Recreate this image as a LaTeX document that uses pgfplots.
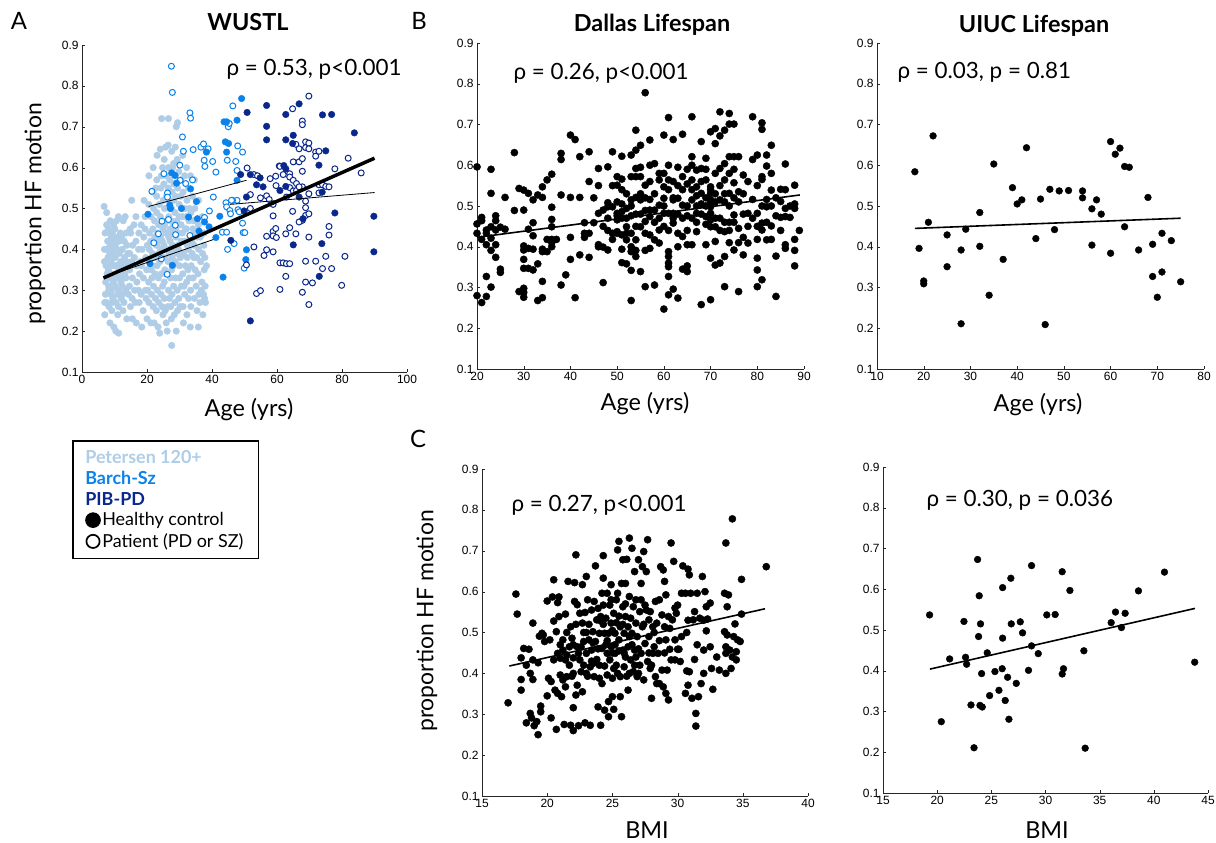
\documentclass[border=0pt]{standalone}
\usepackage{fontspec}
\setmainfont{Lato}
\newfontfamily\tickfont{Liberation Sans}
\usepackage{pgfplots}
\pgfplotsset{compat=1.18}
\definecolor{pet}{RGB}{175,205,230}
\definecolor{barch}{RGB}{10,130,235}
\definecolor{pib}{RGB}{10,40,140}

\pgfplotsset{
  panel/.style={
    scale only axis, width=326bp, height=326bp, anchor=south west,
    axis lines*=left, axis line style={-, black!85},
    tick align=inside, major tick length=3bp, tick style={black!85},
    ymin=0.1, ymax=0.9, ytick={0.1,0.2,0.3,0.4,0.5,0.6,0.7,0.8,0.9},
    yticklabel style={/pgf/number format/.cd, fixed, fixed zerofill, precision=1},
    tick label style={font=\tickfont\fontsize{12}{14}\selectfont},
    /pgf/number format/assume math mode=true,
    clip=false, clip marker paths=true,
  },
  dot/.style={only marks, mark=*, mark size=3.6bp, black, forget plot},
  fit/.style={black, line width=1.6bp, forget plot},
}

\begin{document}
\begin{tikzpicture}[x=1bp, y=1bp]
\useasboundingbox (0,0) rectangle (1216,843);

% ---------------- A: WUSTL ----------------
\begin{axis}[panel, at={(82bp,471bp)}, width=325bp, height=327bp,
  xmin=0, xmax=100, xtick={0,20,40,60,80,100},
  legend style={at={(-0.031,-0.208)}, anchor=north west, draw=black, line width=1.6bp,
    font=\fontsize{18}{20}\selectfont, inner xsep=13bp, inner ysep=8bp, row sep=3.2bp,
    nodes={inner ysep=1.5bp}},
  legend cell align=left]

\addlegendimage{empty legend}
\addlegendentry{\hspace*{-17bp}\textcolor{pet}{\bfseries Petersen 120+}}
\addlegendimage{empty legend}
\addlegendentry{\hspace*{-17bp}\textcolor{barch}{\bfseries Barch-Sz}}
\addlegendimage{empty legend}
\addlegendentry{\hspace*{-17bp}\textcolor{pib}{\bfseries PIB-PD}}
\addlegendimage{legend image code/.code={\draw[mark=*, mark size=7.3bp, black, line width=1bp, only marks] plot coordinates {(7bp,0bp)};}}
\addlegendentry{Healthy control}
\addlegendimage{legend image code/.code={\draw[mark=o, mark size=6.6bp, black, line width=1.7bp, only marks] plot coordinates {(7bp,0bp)};}}
\addlegendentry{Patient (PD or SZ)}

% Petersen 120+
\addplot[only marks, mark=*, mark size=3.3bp, color=pet, forget plot] coordinates {
(6.8,0.505)(7.0,0.24)(7.2,0.29)(6.9,0.37)(7.1,0.44)(7.3,0.32)(6.9,0.40)
(7.6,0.49)(7.7,0.34)(7.5,0.27)(7.8,0.40)(7.6,0.46)
(8.1,0.45)(8.2,0.30)(8.0,0.38)(8.3,0.26)(8.1,0.35)(7.9,0.42)(8.2,0.31)
(8.6,0.22)(8.7,0.47)(8.5,0.36)(8.8,0.29)(8.6,0.41)(8.7,0.33)(8.5,0.39)
(9.1,0.40)(9.2,0.27)(9.0,0.34)(9.3,0.44)(9.1,0.30)(8.9,0.37)(9.2,0.25)(9.4,0.39)(9.0,0.43)
(9.7,0.46)(9.6,0.32)(9.8,0.21)(9.7,0.36)(9.5,0.28)(9.9,0.42)(9.6,0.38)
(10.2,0.38)(10.3,0.31)(10.4,0.20)(10.1,0.45)(10.3,0.34)(10.5,0.27)(10.2,0.41)(10.4,0.36)
(10.8,0.43)(10.9,0.29)(10.7,0.36)(11.0,0.24)(10.8,0.40)(10.9,0.33)
(11.3,0.195)(11.2,0.48)(11.4,0.35)(11.3,0.30)(11.5,0.39)(11.2,0.26)(11.4,0.42)
(11.9,0.37)(12.0,0.32)(11.8,0.44)(12.1,0.28)(11.9,0.34)
(12.4,0.40)(12.6,0.25)(12.5,0.36)(12.4,0.31)(12.7,0.47)(12.5,0.29)(12.6,0.33)
(13.0,0.42)(13.1,0.38)(12.9,0.27)(13.2,0.34)
(13.6,0.44)(13.5,0.30)(13.8,0.23)(13.7,0.37)(13.5,0.33)(13.8,0.41)
(14.2,0.36)(14.3,0.29)(14.1,0.39)
(14.7,0.39)(14.8,0.45)(14.6,0.31)(14.9,0.26)(14.7,0.35)
(15.3,0.52)(15.5,0.33)(15.4,0.28)(15.6,0.41)(15.3,0.37)(15.5,0.23)
(16.0,0.46)(16.2,0.30)(16.1,0.38)
(16.6,0.48)(16.8,0.36)(16.7,0.22)(16.9,0.32)(16.6,0.42)
(17.4,0.40)(17.6,0.27)(17.5,0.44)(17.7,0.34)(17.4,0.30)
(18.2,0.46)(18.4,0.21)(18.3,0.36)(18.5,0.40)(18.2,0.29)
(18.9,0.33)(19.0,0.43)(18.8,0.25)
(19.4,0.48)(19.6,0.38)(19.5,0.30)(19.7,0.28)(19.4,0.45)
(20.0,0.23)(20.1,0.41)(19.9,0.35)
(20.5,0.51)(20.7,0.37)(20.6,0.27)(20.8,0.44)(20.5,0.32)(20.7,0.40)(20.6,0.58)
(21.2,0.48)(21.3,0.35)(21.1,0.42)(21.4,0.29)(21.2,0.22)
(21.8,0.54)(21.9,0.60)(21.7,0.39)(22.0,0.31)(21.8,0.45)(21.9,0.26)(21.7,0.36)(22.0,0.50)
(22.4,0.43)(22.5,0.34)(22.3,0.47)(22.6,0.28)(22.4,0.38)
(23.0,0.57)(23.1,0.63)(22.9,0.41)(23.2,0.30)(23.0,0.49)(23.1,0.36)(22.9,0.25)(23.2,0.44)(23.0,0.53)
(23.6,0.46)(23.7,0.39)(23.5,0.33)(23.8,0.51)(23.6,0.27)(23.7,0.42)
(24.1,0.645)(24.3,0.55)(24.2,0.43)(24.0,0.37)(24.3,0.29)(24.1,0.48)(23.9,0.195)(24.2,0.40)(24.4,0.34)
(24.8,0.60)(24.9,0.45)(24.7,0.38)(25.0,0.52)(24.8,0.31)(24.9,0.24)(24.7,0.42)
(24.5,0.72)(25.3,0.62)(25.4,0.50)(25.2,0.41)(25.5,0.35)(25.3,0.28)(25.4,0.46)(25.2,0.56)(25.5,0.38)(25.3,0.32)
(25.9,0.58)(26.0,0.47)(25.8,0.40)(26.1,0.34)(25.9,0.22)(26.0,0.53)(25.8,0.44)
(26.5,0.655)(26.6,0.60)(26.4,0.52)(26.7,0.43)(26.5,0.37)(26.6,0.30)(26.4,0.26)(26.7,0.48)(26.5,0.40)(26.6,0.55)
(27.0,0.57)(27.1,0.45)(26.9,0.39)(27.2,0.33)(27.0,0.50)(27.1,0.42)(26.9,0.28)
(26.6,0.72)(27.6,0.64)(27.7,0.54)(27.5,0.47)(27.8,0.41)(27.6,0.35)(27.7,0.29)(27.5,0.23)(27.8,0.44)(27.6,0.50)(27.7,0.38)
(28.2,0.61)(28.3,0.52)(28.1,0.46)(28.4,0.40)(28.2,0.31)(28.3,0.56)(28.1,0.36)
(28.7,0.65)(28.8,0.58)(28.6,0.49)(28.9,0.43)(28.7,0.37)(28.8,0.33)(28.6,0.27)(28.9,0.45)(28.7,0.53)
(27.6,0.165)(29.3,0.62)(29.4,0.55)(29.2,0.47)(29.5,0.41)(29.3,0.30)(29.4,0.25)(29.2,0.39)
(29.0,0.70)(29.8,0.59)(29.9,0.51)(29.7,0.44)(30.0,0.36)(29.8,0.28)(29.9,0.48)(29.7,0.40)(30.0,0.33)
(30.4,0.57)(30.5,0.46)(30.3,0.38)(30.6,0.31)(30.4,0.53)(30.5,0.42)
(29.4,0.71)(31.0,0.63)(31.1,0.54)(30.9,0.48)(31.2,0.39)(31.0,0.34)(31.1,0.26)(30.9,0.44)(31.2,0.22)
(31.6,0.58)(31.7,0.50)(31.5,0.42)(31.8,0.36)(31.6,0.29)
(32.2,0.60)(32.3,0.52)(32.1,0.45)(32.4,0.38)(32.2,0.32)(32.3,0.24)(32.1,0.48)(32.4,0.41)
(32.8,0.55)(32.9,0.47)(32.7,0.40)(33.0,0.33)(32.8,0.28)
(33.4,0.58)(33.5,0.49)(33.3,0.43)(33.6,0.36)(33.4,0.30)(33.5,0.26)(33.3,0.21)
(34.0,0.53)(34.1,0.45)(33.9,0.39)(34.2,0.33)
(34.6,0.57)(34.7,0.50)(34.5,0.41)(34.8,0.35)(34.6,0.28)(34.7,0.44)
(35.2,0.47)(35.3,0.38)(35.1,0.31)(35.4,0.25)
(35.8,0.46)(35.9,0.40)(35.7,0.34)(36.0,0.29)(35.8,0.21)(35.9,0.52)
(36.4,0.43)(36.5,0.37)(36.3,0.27)
(37.0,0.48)(37.1,0.39)(36.9,0.32)(37.2,0.24)
(37.5,0.41)(37.6,0.35)(37.4,0.29)(37.6,0.44)(38.2,0.64)(37.8,0.38)(37.9,0.31)(37.7,0.28)(38.3,0.36)(38.0,0.27)
(20.2,0.30)(21.5,0.33)(22.2,0.22)(23.4,0.21)(24.6,0.26)(25.6,0.25)(26.2,0.20)(27.3,0.26)
(28.4,0.24)(29.0,0.20)(30.2,0.26)(31.4,0.31)(32.6,0.35)(33.8,0.42)(34.4,0.38)(35.5,0.43)
(36.7,0.30)(30.7,0.50)(31.9,0.45)(33.1,0.50)(34.3,0.47)(22.7,0.55)(24.4,0.58)(25.7,0.65)
(27.9,0.60)(19.1,0.52)(17.9,0.37)(16.4,0.27)(15.0,0.44)(13.3,0.48)(12.2,0.43)(10.6,0.47)
(9.4,0.33)(8.4,0.44)(7.4,0.36)(7.0,0.27)
};

% Barch-Sz, patients (open)
\addplot[only marks, mark=*, mark size=3.0bp, mark options={draw=barch, fill=white, line width=1bp}, forget plot] coordinates {
(27.5,0.848)(27.8,0.784)(33.2,0.734)(33.4,0.721)(30.9,0.675)(31.2,0.640)(30.1,0.606)
(34.2,0.644)(36.6,0.650)(37.4,0.658)(38.8,0.646)(37.6,0.618)(37.8,0.603)(40.2,0.615)
(41.2,0.589)(34.0,0.570)(31.9,0.561)(30.2,0.569)(25.2,0.585)(26.3,0.538)(26.3,0.528)
(21.5,0.542)(40.4,0.528)(39.2,0.494)(37.7,0.478)(24.6,0.469)(26.6,0.473)(28.7,0.459)
(28.8,0.436)(23.5,0.438)(22.1,0.416)(24.4,0.377)(26.2,0.339)(33.2,0.434)
(45.0,0.700)(46.4,0.751)(47.9,0.653)(49.4,0.638)(47.3,0.615)(44.7,0.618)(47.7,0.593)
(44.3,0.514)(44.5,0.504)(45.5,0.495)(45.7,0.487)(48.0,0.497)(47.7,0.520)(46.3,0.520)
(48.4,0.492)(49.4,0.464)(49.6,0.441)(50.1,0.441)(43.2,0.442)(44.5,0.442)(44.8,0.400)
(46.8,0.414)(49.9,0.354)(45.3,0.708)(46.0,0.520)
};
% Barch-Sz, healthy (filled)
\addplot[only marks, mark=*, mark size=3.3bp, color=barch, forget plot] coordinates {
(20.3,0.486)(20.9,0.365)(27.6,0.587)(28.6,0.581)(29.1,0.562)(27.0,0.508)(27.2,0.500)
(30.6,0.500)(32.8,0.479)(33.4,0.548)(35.2,0.517)(35.5,0.475)(36.0,0.445)(37.7,0.467)
(38.3,0.638)(39.1,0.455)(41.2,0.429)(42.4,0.481)(43.4,0.332)(43.7,0.712)(44.5,0.712)
(44.1,0.663)(45.1,0.659)(44.5,0.638)(47.7,0.716)(47.7,0.569)(49.1,0.769)(50.6,0.399)
(50.4,0.375)(27.8,0.361)
};
% PIB-PD, patients (open)
\addplot[only marks, mark=*, mark size=3.0bp, mark options={draw=pib, fill=white, line width=1bp}, forget plot] coordinates {
(50.8,0.599)(52.9,0.583)(51.8,0.534)(51.8,0.500)(54.9,0.526)(56.8,0.531)(57.6,0.522)
(58.8,0.510)(57.9,0.573)(59.6,0.579)(59.7,0.556)(60.7,0.604)(58.8,0.482)(58.8,0.444)
(58.8,0.433)(59.6,0.451)(59.8,0.429)(56.8,0.432)(56.8,0.399)(56.0,0.385)(58.8,0.394)
(52.9,0.406)(50.6,0.362)(53.7,0.292)(54.9,0.299)(60.9,0.302)(60.9,0.367)
(61.9,0.367)(62.9,0.365)(63.9,0.365)(62.7,0.334)(62.7,0.438)(63.9,0.453)(65.8,0.438)
(64.8,0.493)(63.9,0.585)(63.9,0.577)(65.0,0.569)(65.0,0.614)(64.8,0.744)(66.0,0.561)
(66.8,0.614)(67.8,0.622)(67.8,0.591)(67.8,0.553)(67.8,0.471)(66.8,0.467)(67.8,0.714)
(67.8,0.705)(65.8,0.657)(66.8,0.646)(68.8,0.663)(68.8,0.649)(69.8,0.660)(69.8,0.646)
(68.8,0.518)(68.8,0.502)(68.8,0.483)(69.8,0.487)(69.8,0.536)(69.8,0.775)(69.8,0.430)
(67.8,0.295)(68.8,0.320)(70.9,0.318)(69.8,0.265)(68.8,0.371)(71.9,0.371)(71.9,0.638)
(71.9,0.628)(72.9,0.640)(72.9,0.558)(72.9,0.538)(74.0,0.558)(75.0,0.554)(76.0,0.553)
(74.0,0.353)(75.0,0.383)(76.0,0.456)(76.0,0.435)(76.8,0.353)(77.8,0.597)(79.9,0.312)
(80.9,0.383)(81.9,0.623)(85.9,0.587)(60.9,0.603)(61.9,0.583)(63.9,0.551)(62.9,0.528)
(65.0,0.543)(66.0,0.544)(66.8,0.553)(54.0,0.580)
};
% PIB-PD, healthy (filled)
\addplot[only marks, mark=*, mark size=3.3bp, color=pib, forget plot] coordinates {
(50.8,0.735)(48.8,0.583)(50.6,0.528)(51.8,0.583)(49.9,0.494)(45.8,0.422)(51.8,0.225)
(53.7,0.558)(54.8,0.575)(55.7,0.553)(56.8,0.752)(56.8,0.701)(56.8,0.668)(60.9,0.544)
(62.7,0.730)(62.7,0.668)(62.7,0.597)(62.7,0.554)(62.1,0.605)(65.0,0.679)(64.8,0.659)
(65.0,0.411)(66.8,0.756)(66.8,0.528)(72.9,0.606)(73.9,0.540)(75.0,0.641)(74.0,0.729)
(76.8,0.730)(83.8,0.685)(77.8,0.489)(73.8,0.414)(73.0,0.334)(89.8,0.481)(89.8,0.394)
(68.0,0.475)
};
% fits
\addplot[black, line width=0.8bp, forget plot] coordinates {(7,0.332)(40.4,0.424)};
\addplot[black, line width=0.8bp, forget plot] coordinates {(20.5,0.505)(50.6,0.569)};
\addplot[black, line width=0.8bp, forget plot] coordinates {(45.5,0.510)(90,0.539)};
\addplot[black, line width=3.5bp, forget plot] coordinates {(6.6,0.330)(90,0.623)};
\end{axis}

% ---------------- B: Dallas, age ----------------
\begin{axis}[panel, at={(477bp,474bp)}, width=327bp, height=326bp,
  xmin=20, xmax=90, xtick={20,30,40,50,60,70,80,90}]
\addplot[dot] coordinates {
(20,0.596)(20,0.456)(20,0.433)(20,0.280)
(21,0.472)(21,0.464)(21,0.418)(21,0.263)
(22,0.441)(22,0.405)(22,0.327)(22,0.278)(22,0.433)
(23,0.590)(23,0.531)(23,0.449)(23,0.391)(23,0.301)(23,0.421)
(24,0.476)(24,0.464)(24,0.405)(24,0.374)(24,0.441)
(25,0.448)(25,0.345)(25,0.337)
(26,0.521)(26,0.443)
(28,0.631)(28,0.489)
(29,0.543)(29,0.290)
(30,0.539)(30,0.490)(30,0.402)(30,0.392)(30,0.369)(30,0.347)(30,0.298)(30,0.276)(30,0.288)
(31,0.531)(31,0.443)(31,0.396)(31,0.347)
(32,0.515)(32,0.459)(32,0.427)(32,0.394)(32,0.343)
(33,0.527)(33,0.358)(33,0.268)
(34,0.547)(34,0.521)(34,0.394)(34,0.388)(34,0.315)(34,0.275)
(35,0.564)(35,0.418)(35,0.388)
(36,0.578)(36,0.497)(36,0.467)(36,0.449)(36,0.410)(36,0.400)(36,0.418)
(37,0.418)
(38,0.629)(38,0.614)(38,0.527)(38,0.306)
(39,0.331)
(40,0.674)(40,0.521)(40,0.423)(40,0.369)
(41,0.663)(41,0.275)
(42,0.621)(42,0.521)(42,0.380)
(43,0.459)(43,0.433)(43,0.423)
(44,0.633)(44,0.560)(44,0.433)(44,0.374)
(45,0.459)
(46,0.592)(46,0.482)(46,0.405)(46,0.400)
(47,0.490)(47,0.399)(47,0.312)
(48,0.596)(48,0.508)(48,0.498)(48,0.440)(48,0.392)
(49,0.633)(49,0.498)(49,0.433)(49,0.418)
(50,0.572)(50,0.551)(50,0.482)(50,0.476)(50,0.466)(50,0.437)(50,0.433)
(51,0.622)(51,0.566)(51,0.505)(51,0.486)(51,0.470)(51,0.429)(51,0.394)(51,0.361)
(52,0.494)(52,0.449)(52,0.417)(52,0.358)(52,0.433)
(53,0.625)(53,0.572)(53,0.515)(53,0.476)(53,0.433)(53,0.400)(53,0.342)(53,0.268)(53,0.388)
(54,0.686)(54,0.637)(54,0.592)(54,0.572)(54,0.521)(54,0.480)(54,0.391)(54,0.376)(54,0.417)
(55,0.649)(55,0.595)(55,0.572)(55,0.515)(55,0.449)(55,0.339)
(56,0.778)(56,0.551)(56,0.489)(56,0.462)(56,0.433)(56,0.391)(56,0.302)
(57,0.662)(57,0.600)(57,0.516)(57,0.474)(57,0.429)(57,0.396)
(58,0.604)(58,0.490)(58,0.417)(58,0.306)
(59,0.564)(59,0.502)(59,0.441)(59,0.409)
(60,0.674)(60,0.580)(60,0.519)(60,0.482)(60,0.247)(60,0.547)
(61,0.717)(61,0.600)(61,0.564)(61,0.482)(61,0.388)(61,0.360)(61,0.327)(61,0.282)(61,0.351)(61,0.376)
(62,0.663)(62,0.560)(62,0.482)(62,0.458)(62,0.296)(62,0.515)(62,0.470)
(63,0.595)(63,0.519)(63,0.433)(63,0.400)(63,0.274)
(64,0.676)(64,0.572)(64,0.502)(64,0.425)(64,0.345)
(65,0.554)(65,0.476)(65,0.405)(65,0.353)(65,0.339)(65,0.500)
(66,0.719)(66,0.621)(66,0.564)(66,0.515)(66,0.405)(66,0.540)
(67,0.588)(67,0.547)(67,0.482)(67,0.437)(67,0.525)
(68,0.658)(68,0.592)(68,0.531)(68,0.258)(68,0.505)
(69,0.617)(69,0.564)(69,0.474)(69,0.405)(69,0.500)(69,0.455)
(70,0.682)(70,0.547)(70,0.531)(70,0.515)(70,0.498)(70,0.482)(70,0.466)(70,0.372)(70,0.270)(70,0.449)(70,0.540)(70,0.507)
(71,0.690)(71,0.653)(71,0.449)(71,0.413)(71,0.355)(71,0.530)(71,0.470)
(72,0.731)(72,0.672)(72,0.592)(72,0.515)(72,0.360)(72,0.440)
(73,0.686)(73,0.604)(73,0.564)(73,0.437)(73,0.376)(73,0.302)(73,0.510)
(74,0.727)(74,0.701)(74,0.621)(74,0.580)(74,0.531)(74,0.410)(74,0.460)
(75,0.701)(75,0.621)(75,0.557)(75,0.478)(75,0.392)(75,0.520)
(76,0.621)(76,0.535)(76,0.445)(76,0.290)
(77,0.576)(77,0.480)(77,0.423)(77,0.380)
(78,0.482)(78,0.409)
(79,0.719)(79,0.614)(79,0.516)
(80,0.625)(80,0.482)(80,0.418)(80,0.372)(80,0.343)(80,0.302)(80,0.450)
(81,0.704)(81,0.688)(81,0.572)(81,0.458)(81,0.441)(81,0.319)(81,0.565)
(82,0.625)(82,0.598)(82,0.516)(82,0.498)(82,0.417)
(83,0.649)(83,0.539)(83,0.451)(83,0.418)(83,0.500)
(84,0.476)(84,0.377)(84,0.278)
(85,0.541)(85,0.511)(85,0.472)
(86,0.603)(86,0.494)(86,0.474)(86,0.396)(86,0.405)
(87,0.472)
(88,0.551)(88,0.505)(88,0.494)(88,0.418)(88,0.391)(88,0.353)
(89,0.440)
(45,0.52)(46,0.55)(47,0.45)(48,0.47)(49,0.55)(50,0.51)(51,0.54)(52,0.53)(52,0.47)(53,0.50)
(54,0.45)(55,0.48)(55,0.53)(56,0.52)(57,0.56)(57,0.49)(58,0.53)(58,0.46)(59,0.47)(59,0.58)
(60,0.45)(60,0.50)(61,0.54)(61,0.44)(62,0.52)(63,0.55)(63,0.48)(64,0.47)(64,0.54)(65,0.59)
(65,0.44)(66,0.47)(66,0.60)(67,0.50)(67,0.46)(68,0.48)(68,0.56)(69,0.52)(69,0.59)(71,0.51)
(71,0.58)(72,0.47)(72,0.55)(73,0.53)(73,0.46)(74,0.50)(74,0.44)(75,0.46)(75,0.59)(76,0.51)
(76,0.41)(77,0.53)(78,0.45)(78,0.56)(79,0.47)(80,0.55)(81,0.50)(82,0.46)(83,0.58)(84,0.52)
(85,0.44)(86,0.54)(87,0.50)
};
\addplot[fit] coordinates {(20,0.423)(89.1,0.527)};
\end{axis}

% ---------------- B: UIUC, age ----------------
\begin{axis}[panel, at={(877bp,474bp)}, width=327bp, height=326bp,
  xmin=10, xmax=80, xtick={10,20,30,40,50,60,70,80}]
\addplot[dot, mark size=3.4bp] coordinates {
(18.1,0.584)(19,0.396)(20,0.316)(20,0.309)(21,0.460)(22,0.672)(25,0.429)(25,0.351)
(28,0.392)(28,0.211)(29,0.443)(32,0.484)(32,0.401)(34,0.281)(35,0.603)(37,0.369)
(39,0.545)(40,0.505)(41,0.515)(42,0.643)(44,0.420)(45,0.517)(46,0.209)(47,0.541)
(48,0.442)(49,0.537)(51,0.538)(54,0.537)(54,0.520)(56,0.493)(56,0.404)(57,0.515)
(58,0.480)(60,0.658)(60,0.384)(61,0.627)(62,0.642)(63,0.597)(63,0.449)(64,0.595)
(66,0.392)(68,0.521)(69,0.406)(69,0.327)(70,0.276)(71,0.433)(71,0.338)(73,0.415)
(75,0.314)
};
\addplot[fit] coordinates {(18.1,0.445)(75,0.470)};
\end{axis}

% ---------------- C: Dallas, BMI ----------------
\begin{axis}[panel, at={(482bp,47bp)}, width=326bp, height=327bp,
  xmin=15, xmax=40, xtick={15,20,25,30,35,40}]
\addplot[dot] coordinates {
(17.0,0.328)(17.6,0.594)(17.7,0.545)(18.0,0.438)(18.0,0.385)(18.0,0.359)(18.2,0.461)
(18.4,0.279)(18.4,0.420)(18.6,0.459)(18.7,0.400)(18.7,0.302)(18.8,0.291)(18.9,0.523)
(18.9,0.433)(18.9,0.385)(19.0,0.272)(19.2,0.282)(19.3,0.250)(19.3,0.426)(19.4,0.491)
(19.5,0.320)(19.5,0.306)(19.6,0.498)(19.7,0.494)(19.8,0.478)(20.0,0.345)(20.0,0.577)
(20.1,0.388)(20.2,0.482)(20.3,0.291)(20.3,0.380)(20.4,0.587)(20.5,0.528)(20.5,0.629)
(20.5,0.433)(20.6,0.359)(20.7,0.502)(20.7,0.263)(20.8,0.449)(20.8,0.351)(20.8,0.573)
(20.9,0.587)(20.9,0.539)(21.0,0.396)(21.0,0.437)(21.1,0.343)(21.2,0.457)(21.2,0.482)
(21.2,0.384)(21.3,0.275)(21.4,0.433)(21.4,0.367)(21.4,0.545)(21.5,0.445)(21.5,0.392)
(21.6,0.625)(21.7,0.465)(21.7,0.420)(21.8,0.273)(21.8,0.514)(21.9,0.393)(21.9,0.486)
(22.0,0.316)(22.0,0.438)(22.0,0.260)(22.1,0.622)(22.1,0.576)(22.2,0.690)(22.2,0.347)
(22.3,0.371)(22.3,0.465)(22.3,0.568)(22.4,0.449)(22.4,0.272)(22.5,0.547)(22.5,0.433)
(22.6,0.465)(22.6,0.404)(22.7,0.355)(22.7,0.617)(22.7,0.523)(22.8,0.478)(22.8,0.420)
(22.9,0.549)(22.9,0.279)(23.0,0.637)(23.0,0.449)(23.1,0.393)(23.1,0.580)(23.2,0.482)
(23.2,0.520)(23.3,0.416)(23.3,0.273)(23.4,0.555)(23.4,0.457)(23.5,0.502)(23.5,0.424)
(23.6,0.392)(23.6,0.576)(23.7,0.478)(23.7,0.663)(23.8,0.531)(23.8,0.434)(23.9,0.559)
(23.9,0.318)(24.0,0.498)(24.0,0.388)(24.1,0.273)(24.1,0.539)(24.2,0.596)(24.2,0.461)
(24.2,0.375)(24.3,0.688)(24.3,0.567)(24.3,0.633)(24.4,0.498)(24.4,0.310)(24.4,0.418)
(24.5,0.535)(24.6,0.449)(24.6,0.596)(24.6,0.396)(24.7,0.331)(24.7,0.498)(24.7,0.294)
(24.8,0.567)(24.8,0.433)(24.9,0.465)(24.9,0.617)(24.9,0.523)(25.0,0.388)(25.0,0.343)
(25.1,0.547)(25.1,0.412)(25.1,0.312)(25.2,0.498)(25.2,0.449)(25.3,0.580)(25.3,0.524)
(25.4,0.400)(25.4,0.702)(25.4,0.596)(25.5,0.482)(25.5,0.723)(25.6,0.514)(25.6,0.392)
(25.6,0.343)(25.7,0.620)(25.7,0.294)(25.8,0.457)(25.8,0.678)(25.8,0.563)(25.9,0.416)
(25.9,0.498)(26.0,0.539)(26.0,0.620)(26.1,0.393)(26.1,0.679)(26.2,0.465)(26.2,0.359)
(26.2,0.514)(26.3,0.588)(26.3,0.731)(26.4,0.433)(26.4,0.535)(26.5,0.498)(26.5,0.706)
(26.6,0.563)(26.6,0.404)(26.7,0.649)(26.7,0.457)(26.8,0.523)(26.8,0.580)(26.9,0.392)
(26.9,0.490)(27.0,0.678)(27.1,0.420)(27.1,0.551)(27.2,0.620)(27.2,0.449)(27.3,0.661)
(27.3,0.514)(27.4,0.384)(27.4,0.698)(27.5,0.567)(27.5,0.473)(27.6,0.649)(27.6,0.555)
(27.7,0.429)(27.7,0.727)(27.8,0.531)(27.8,0.490)(27.9,0.412)(27.9,0.551)(28.0,0.339)
(28.1,0.449)(28.1,0.514)(28.2,0.465)(28.3,0.576)(28.3,0.392)(28.4,0.523)(28.4,0.375)
(28.5,0.449)(28.6,0.580)(28.6,0.375)(28.7,0.661)(28.8,0.408)(28.8,0.543)(28.9,0.653)
(28.9,0.367)(29.0,0.514)(29.0,0.625)(29.1,0.482)(29.1,0.351)(29.1,0.592)(29.2,0.408)
(29.3,0.539)(29.3,0.335)(29.4,0.459)(29.5,0.719)(29.5,0.433)(29.6,0.531)(29.7,0.674)
(29.8,0.482)(29.8,0.433)(29.9,0.547)(30.0,0.459)(30.0,0.567)(30.1,0.459)(30.2,0.429)
(30.3,0.596)(30.4,0.663)(30.6,0.596)(30.6,0.351)(30.7,0.406)(30.7,0.500)(30.8,0.655)
(30.8,0.371)(30.9,0.404)(30.9,0.641)(31.0,0.596)(31.1,0.339)(31.2,0.531)(31.3,0.434)
(31.3,0.551)(31.4,0.271)(31.4,0.302)(31.5,0.596)(31.6,0.343)(31.7,0.535)(31.8,0.375)
(31.9,0.637)(32.0,0.400)(32.0,0.457)(32.1,0.600)(32.2,0.504)(32.2,0.563)(32.3,0.533)
(32.5,0.465)(32.5,0.572)(32.6,0.412)(32.7,0.361)(33.2,0.408)(33.6,0.502)(33.6,0.596)
(33.7,0.465)(33.7,0.719)(33.7,0.400)(33.7,0.449)(33.8,0.563)(33.8,0.494)(33.9,0.592)
(34.0,0.457)(34.1,0.412)(34.2,0.778)(34.3,0.490)(34.4,0.521)(34.5,0.453)(34.5,0.433)
(34.6,0.482)(34.8,0.478)(34.9,0.630)(34.9,0.545)(36.8,0.661)
(24.5,0.470)(25.0,0.505)(25.5,0.455)(26.0,0.440)(26.5,0.470)(23.5,0.475)(22.0,0.470)
(25.8,0.520)(26.8,0.440)(24.0,0.530)(27.0,0.400)(23.0,0.400)(25.3,0.420)(26.3,0.400)
(21.5,0.50)(22.2,0.52)(22.8,0.50)(23.4,0.43)(23.9,0.46)(24.3,0.52)(24.6,0.48)(24.9,0.58)
(25.2,0.47)(25.5,0.54)(25.9,0.45)(26.3,0.49)(26.7,0.42)(27.0,0.46)(27.4,0.52)(27.8,0.45)
(28.2,0.50)(28.6,0.48)(29.0,0.45)(29.4,0.51)(29.8,0.56)(30.3,0.49)(30.8,0.53)(31.5,0.47)
(32.0,0.53)(33.0,0.44)(34.2,0.44)(23.0,0.50)(24.0,0.42)(25.0,0.45)(26.0,0.57)(27.2,0.58)
(28.0,0.42)(22.0,0.40)(21.0,0.47)
};
\addplot[fit] coordinates {(17.1,0.418)(36.7,0.558)};
\end{axis}

% ---------------- C: UIUC, BMI ----------------
\begin{axis}[panel, at={(883bp,50bp)}, width=325bp, height=326bp,
  xmin=15, xmax=45, xtick={15,20,25,30,35,40,45}]
\addplot[dot, mark size=3.4bp] coordinates {
(19.3,0.537)(20.38,0.275)(21.15,0.429)(22.47,0.521)(22.62,0.433)(22.72,0.416)(23.12,0.316)
(23.4,0.211)(23.73,0.673)(23.82,0.484)(23.88,0.584)(23.95,0.315)(24.0,0.515)(24.1,0.393)
(24.16,0.311)(24.62,0.444)(24.84,0.339)(25.33,0.398)(25.7,0.352)(26.0,0.405)(26.04,0.604)
(26.04,0.480)(26.28,0.327)(26.5,0.384)(26.62,0.281)(26.8,0.627)(26.84,0.515)(27.3,0.369)
(27.67,0.520)(27.88,0.493)(28.43,0.401)(28.71,0.658)(28.71,0.461)(29.33,0.442)(30.12,0.537)
(30.89,0.538)(31.54,0.643)(31.54,0.392)(31.66,0.405)(32.25,0.597)(33.54,0.449)(33.66,0.210)
(36.06,0.518)(36.46,0.544)(37.01,0.506)(37.35,0.541)(38.58,0.596)(40.98,0.642)(43.77,0.421)
};
\addplot[fit] coordinates {(19.33,0.404)(43.8,0.553)};
\end{axis}

% ---------------- text ----------------
\node[anchor=base, font=\fontsize{24}{28}\selectfont] at (19,813) {A};
\node[anchor=base, font=\fontsize{24}{28}\selectfont] at (419,813) {B};
\node[anchor=base, font=\fontsize{24}{28}\selectfont] at (418,395) {C};

\node[anchor=base, font=\bfseries\fontsize{23.5}{28}\selectfont] at (248,812) {WUSTL};
\node[anchor=base, font=\bfseries\fontsize{23.5}{28}\selectfont] at (652,811) {Dallas Lifespan};
\node[anchor=base, font=\bfseries\fontsize{23.5}{28}\selectfont] at (1034,810) {UIUC Lifespan};

\node[anchor=base west, font=\fontsize{22.5}{27}\selectfont] at (223,767) {ρ = 0.53, p<0.001};
\node[anchor=base west, font=\fontsize{22.5}{27}\selectfont] at (510,763) {ρ = 0.26, p<0.001};
\node[anchor=base west, font=\fontsize{22.5}{27}\selectfont] at (894,764) {ρ = 0.03, p = 0.81};
\node[anchor=base west, font=\fontsize{22.5}{27}\selectfont] at (508,331) {ρ = 0.27, p<0.001};
\node[anchor=base west, font=\fontsize{22.5}{27}\selectfont] at (923,336) {ρ = 0.30, p = 0.036};

\node[anchor=base, font=\fontsize{23.5}{28}\selectfont] at (249,426) {Age (yrs)};
\node[anchor=base, font=\fontsize{23.5}{28}\selectfont] at (645,432) {Age (yrs)};
\node[anchor=base, font=\fontsize{23.5}{28}\selectfont] at (1038,431) {Age (yrs)};
\node[anchor=base, font=\fontsize{23.5}{28}\selectfont] at (647,4) {BMI};
\node[anchor=base, font=\fontsize{23.5}{28}\selectfont] at (1047,4) {BMI};

\node[rotate=90, font=\fontsize{23}{28}\selectfont] at (35,629) {proportion HF motion};
\node[rotate=90, font=\fontsize{23}{28}\selectfont] at (427,222) {proportion HF motion};
\end{tikzpicture}
\end{document}
